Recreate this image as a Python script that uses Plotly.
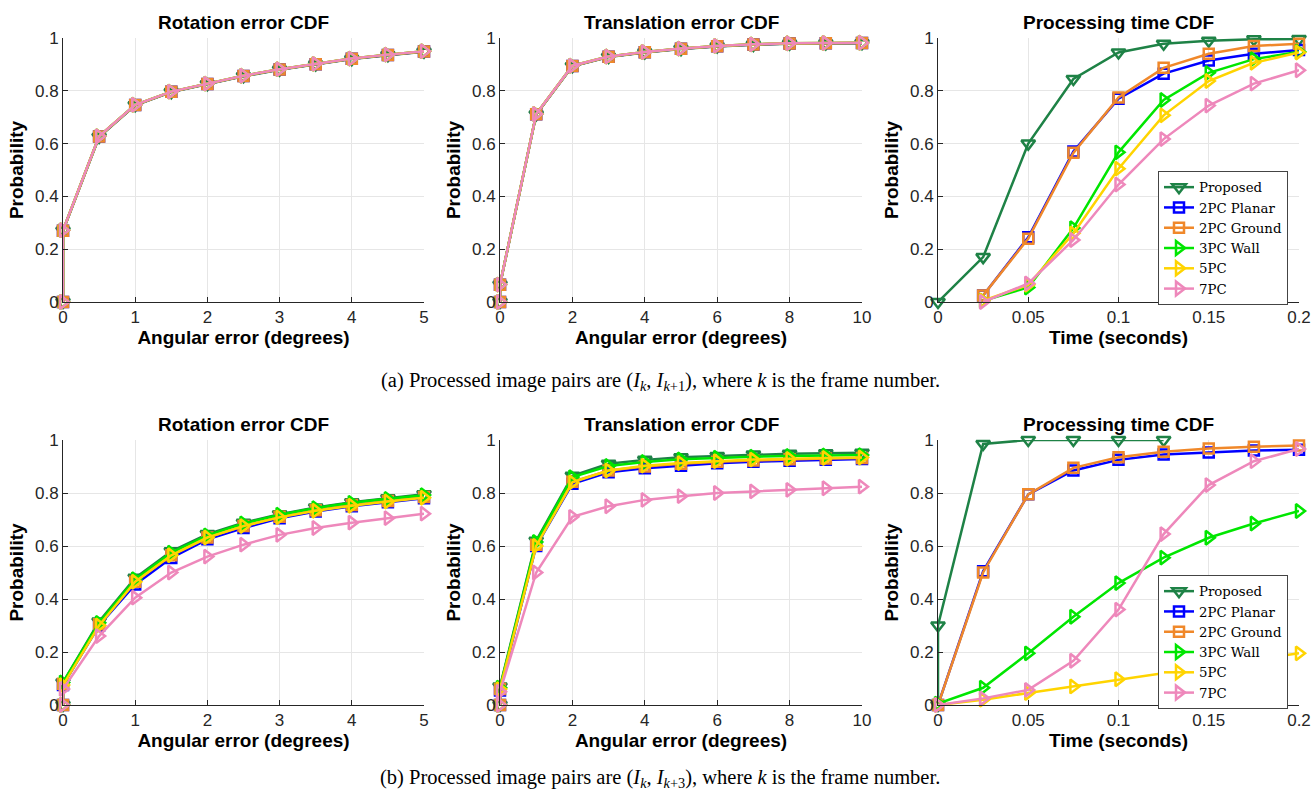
import plotly.graph_objects as go

# ---------------- data ----------------
methods = ["Proposed", "2PC Planar", "2PC Ground", "3PC Wall", "5PC", "7PC"]

# (a) consecutive frames
rot_x_a = [0, 0, 0.5, 1, 1.5, 2, 2.5, 3, 3.5, 4, 4.5, 5]
rot_a_proposed = [0, 0.27, 0.625, 0.745, 0.795, 0.825, 0.855, 0.880, 0.900, 0.920, 0.935, 0.948]
rot_a_planar = [0, 0.27, 0.627, 0.746, 0.796, 0.826, 0.856, 0.881, 0.901, 0.921, 0.936, 0.949]
rot_a_ground = [0, 0.27, 0.627, 0.746, 0.796, 0.826, 0.856, 0.881, 0.901, 0.921, 0.936, 0.949]
rot_a_wall = [0, 0.272, 0.628, 0.747, 0.797, 0.827, 0.857, 0.882, 0.902, 0.922, 0.937, 0.950]
rot_a_5pc = [0, 0.272, 0.628, 0.747, 0.797, 0.827, 0.857, 0.882, 0.902, 0.922, 0.937, 0.950]
rot_a_7pc = [0, 0.272, 0.628, 0.747, 0.797, 0.827, 0.857, 0.882, 0.902, 0.922, 0.937, 0.950]

trans_x_a = [0, 0, 1, 2, 3, 4, 5, 6, 7, 8, 9, 10]
trans_a_proposed = [0, 0.065, 0.710, 0.893, 0.928, 0.945, 0.958, 0.968, 0.974, 0.978, 0.979, 0.980]
trans_a_planar = [0, 0.065, 0.711, 0.894, 0.929, 0.946, 0.959, 0.969, 0.975, 0.979, 0.980, 0.981]
trans_a_ground = [0, 0.065, 0.711, 0.894, 0.929, 0.946, 0.959, 0.969, 0.975, 0.979, 0.980, 0.981]
trans_a_wall = [0, 0.066, 0.712, 0.895, 0.930, 0.947, 0.960, 0.970, 0.976, 0.980, 0.981, 0.982]
trans_a_5pc = [0, 0.066, 0.712, 0.895, 0.930, 0.947, 0.960, 0.970, 0.976, 0.980, 0.981, 0.982]
trans_a_7pc = [0, 0.066, 0.712, 0.895, 0.930, 0.947, 0.960, 0.970, 0.976, 0.980, 0.981, 0.982]

time_x_a_proposed = [0, 0.025, 0.05, 0.075, 0.1, 0.125, 0.15, 0.175, 0.2]
time_x_a_others = [0.025, 0.05, 0.075, 0.1, 0.125, 0.15, 0.175, 0.2]
time_a_proposed = [0, 0.170, 0.600, 0.845, 0.945, 0.978, 0.990, 0.995, 0.996]
time_a_planar = [0.025, 0.245, 0.570, 0.770, 0.865, 0.915, 0.940, 0.955]
time_a_ground = [0.025, 0.240, 0.565, 0.775, 0.887, 0.940, 0.970, 0.978]
time_a_wall = [0.005, 0.055, 0.280, 0.567, 0.765, 0.868, 0.920, 0.948]
time_a_5pc = [0.005, 0.065, 0.260, 0.505, 0.707, 0.837, 0.906, 0.945]
time_a_7pc = [0.0, 0.070, 0.235, 0.445, 0.617, 0.744, 0.827, 0.878]

# (b) frames k and k+3
rot_x_b = [0, 0, 0.5, 1, 1.5, 2, 2.5, 3, 3.5, 4, 4.5, 5]
rot_b_proposed = [0, 0.085, 0.315, 0.480, 0.580, 0.645, 0.688, 0.720, 0.745, 0.765, 0.780, 0.795]
rot_b_planar = [0, 0.075, 0.300, 0.455, 0.555, 0.625, 0.668, 0.705, 0.730, 0.750, 0.765, 0.780]
rot_b_ground = [0, 0.080, 0.305, 0.465, 0.565, 0.632, 0.675, 0.710, 0.735, 0.755, 0.770, 0.785]
rot_b_wall = [0, 0.085, 0.310, 0.475, 0.575, 0.640, 0.685, 0.718, 0.743, 0.763, 0.778, 0.792]
rot_b_5pc = [0, 0.075, 0.300, 0.465, 0.565, 0.632, 0.675, 0.708, 0.733, 0.752, 0.768, 0.782]
rot_b_7pc = [0, 0.060, 0.260, 0.405, 0.500, 0.560, 0.605, 0.642, 0.668, 0.688, 0.705, 0.722]

trans_x_b = [0, 0, 1, 2, 3, 4, 5, 6, 7, 8, 9, 10]
trans_b_proposed = [0, 0.070, 0.620, 0.865, 0.910, 0.925, 0.935, 0.940, 0.945, 0.948, 0.950, 0.952]
trans_b_planar = [0, 0.055, 0.600, 0.835, 0.878, 0.893, 0.903, 0.912, 0.918, 0.922, 0.925, 0.928]
trans_b_ground = [0, 0.060, 0.605, 0.842, 0.885, 0.900, 0.910, 0.918, 0.923, 0.927, 0.930, 0.932]
trans_b_wall = [0, 0.065, 0.615, 0.860, 0.902, 0.917, 0.927, 0.933, 0.937, 0.940, 0.942, 0.943]
trans_b_5pc = [0, 0.060, 0.600, 0.840, 0.885, 0.903, 0.913, 0.920, 0.926, 0.929, 0.932, 0.934]
trans_b_7pc = [0, 0.050, 0.500, 0.710, 0.750, 0.774, 0.788, 0.800, 0.806, 0.812, 0.818, 0.824]

time_x_b_proposed = [0, 0, 0.025, 0.05, 0.075, 0.1, 0.125]
time_x_b_others = [0, 0.025, 0.05, 0.075, 0.1, 0.125, 0.15, 0.175, 0.2]
time_b_proposed = [0, 0.300, 0.985, 1.0, 1.0, 1.0, 1.0]
time_b_planar = [0, 0.505, 0.795, 0.885, 0.925, 0.945, 0.953, 0.960, 0.963]
time_b_ground = [0, 0.500, 0.795, 0.895, 0.935, 0.956, 0.968, 0.975, 0.979]
time_b_wall = [0.005, 0.065, 0.195, 0.333, 0.460, 0.556, 0.631, 0.685, 0.732]
time_b_5pc = [0, 0.020, 0.045, 0.070, 0.097, 0.122, 0.145, 0.170, 0.195]
time_b_7pc = [0, 0.025, 0.057, 0.167, 0.360, 0.645, 0.830, 0.920, 0.966]

# ---------------- style ----------------
colors = ["#1E8246", "#0000FF", "#F0882A", "#00E600", "#FFD400", "#EE88BB"]
symbols = ["triangle-down-open", "square-open", "square-open",
           "triangle-right-open", "triangle-right-open", "triangle-right-open"]
sizes = [12, 10, 10, 12, 12, 12]

SANS = "Liberation Sans, Arial, sans-serif"
SERIF = "DejaVu Serif, serif"
TXT = "#262626"

fig = go.Figure()

panels = [
    (1, [rot_x_a] * 6, [rot_a_proposed, rot_a_planar, rot_a_ground, rot_a_wall, rot_a_5pc, rot_a_7pc], None),
    (2, [trans_x_a] * 6, [trans_a_proposed, trans_a_planar, trans_a_ground, trans_a_wall, trans_a_5pc, trans_a_7pc], None),
    (3, [time_x_a_proposed] + [time_x_a_others] * 5,
     [time_a_proposed, time_a_planar, time_a_ground, time_a_wall, time_a_5pc, time_a_7pc], "legend"),
    (4, [rot_x_b] * 6, [rot_b_proposed, rot_b_planar, rot_b_ground, rot_b_wall, rot_b_5pc, rot_b_7pc], None),
    (5, [trans_x_b] * 6, [trans_b_proposed, trans_b_planar, trans_b_ground, trans_b_wall, trans_b_5pc, trans_b_7pc], None),
    (6, [time_x_b_proposed] + [time_x_b_others] * 5,
     [time_b_proposed, time_b_planar, time_b_ground, time_b_wall, time_b_5pc, time_b_7pc], "legend2"),
]

for idx, xs_list, ys_list, leg in panels:
    suffix = "" if idx == 1 else str(idx)
    for m in range(6):
        fig.add_trace(go.Scatter(
            x=xs_list[m], y=ys_list[m], name=methods[m],
            mode="lines+markers",
            line=dict(color=colors[m], width=2.5),
            marker=dict(symbol=symbols[m], size=sizes[m], color=colors[m],
                        line=dict(color=colors[m], width=2.5)),
            cliponaxis=False,
            xaxis="x" + suffix, yaxis="y" + suffix,
            showlegend=leg is not None,
            legend=leg if leg else "legend",
            hoverinfo="skip",
        ))

W, H = 1312, 792
xdom = [(63, 424), (500, 862), (938, 1299)]
ydom = [(38, 302), (440, 705)]

xinfo = [
    dict(range=[0, 5], tickvals=[0, 1, 2, 3, 4, 5], ticktext=["0", "1", "2", "3", "4", "5"],
         title="Angular error (degrees)"),
    dict(range=[0, 10], tickvals=[0, 2, 4, 6, 8, 10], ticktext=["0", "2", "4", "6", "8", "10"],
         title="Angular error (degrees)"),
    dict(range=[0, 0.2], tickvals=[0, 0.05, 0.1, 0.15, 0.2], ticktext=["0", "0.05", "0.1", "0.15", "0.2"],
         title="Time (seconds)"),
]
titles = ["Rotation error CDF", "Translation error CDF", "Processing time CDF"]
ytick_vals = [0, 0.2, 0.4, 0.6, 0.8, 1]
ytick_text = ["0", "0.2", "0.4", "0.6", "0.8", "1"]

layout = dict(
    width=W, height=H, margin=dict(l=0, r=0, t=0, b=0, autoexpand=False),
    paper_bgcolor="white", plot_bgcolor="white",
    font=dict(family=SANS, color=TXT),
    annotations=[],
)

TITLE_FONT = dict(family=SANS, size=19, color="black")

for row in range(2):
    for col in range(3):
        idx = row * 3 + col + 1
        suffix = "" if idx == 1 else str(idx)
        x0, x1 = xdom[col]
        y0, y1 = ydom[row]
        xi = xinfo[col]
        common = dict(
            showline=True, linecolor=TXT, linewidth=1, mirror=False,
            ticks="inside", ticklen=5, tickcolor=TXT, tickwidth=1,
            showgrid=True, gridcolor="#E6E6E6", gridwidth=1, zeroline=False,
            tickfont=dict(family=SANS, size=17, color=TXT),
            fixedrange=True, automargin=False,
        )
        layout["xaxis" + suffix] = dict(
            common, domain=[x0 / W, x1 / W], range=xi["range"],
            tickmode="array", tickvals=xi["tickvals"], ticktext=xi["ticktext"],
            anchor="y" + suffix,
            title=dict(text="<b>" + xi["title"] + "</b>", standoff=4, font=TITLE_FONT),
        )
        layout["yaxis" + suffix] = dict(
            common, domain=[1 - y1 / H, 1 - y0 / H], range=[0, 1],
            tickmode="array", tickvals=ytick_vals, ticktext=ytick_text,
            anchor="x" + suffix,
            title=dict(text="<b>Probability</b>", standoff=6, font=TITLE_FONT),
        )
        layout["annotations"].append(dict(
            text="<b>" + titles[col] + "</b>", xref="paper", yref="paper",
            x=(x0 + x1) / 2 / W, y=1 - (y0 - 16) / H, xanchor="center", yanchor="middle",
            showarrow=False, font=TITLE_FONT,
        ))

captions = [
    ("(a) Processed image pairs are (<i>I</i><sub><i>k</i></sub>, <i>I</i><sub><i>k</i>+1</sub>), "
     "where <i>k</i> is the frame number.", 382),
    ("(b) Processed image pairs are (<i>I</i><sub><i>k</i></sub>, <i>I</i><sub><i>k</i>+3</sub>), "
     "where <i>k</i> is the frame number.", 778),
]
for text, ypix in captions:
    layout["annotations"].append(dict(
        text=text, xref="paper", yref="paper", x=660 / W, y=1 - ypix / H,
        xanchor="center", yanchor="middle", showarrow=False,
        font=dict(family="Liberation Serif, Times New Roman, serif", size=20.5, color="black"),
    ))

legend_common = dict(
    xanchor="left", yanchor="top", bgcolor="white", bordercolor="#444444", borderwidth=1,
    font=dict(family=SERIF, size=13.3, color="black"), itemwidth=30, tracegroupgap=0,
    traceorder="normal",
)
layout["legend"] = dict(legend_common, x=1158 / W, y=1 - 171 / H)
layout["legend2"] = dict(legend_common, x=1158 / W, y=1 - 575 / H)

fig.update_layout(**layout)
fig.write_html("out.html")
